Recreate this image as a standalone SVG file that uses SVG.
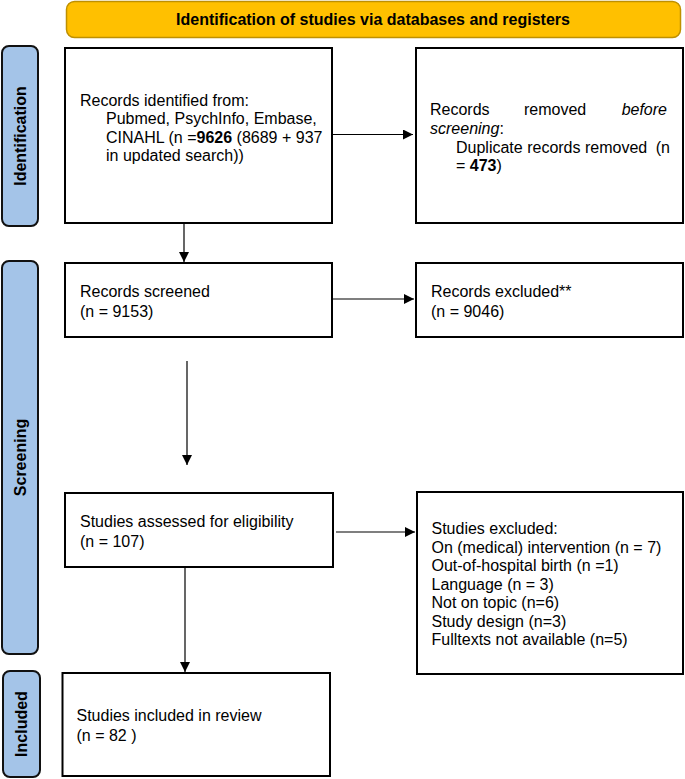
<svg xmlns="http://www.w3.org/2000/svg" width="685" height="779" viewBox="0 0 685 779">
<style>
.t{font-family:"Liberation Sans",Arial,sans-serif;font-size:16px;fill:#000}
.b{font-weight:bold}
.i{font-style:italic}
.box{fill:#fff;stroke:#000;stroke-width:2}
.side{fill:#A4C4E8;stroke:#111;stroke-width:2}
.lbl{font-family:"Liberation Sans",Arial,sans-serif;font-size:16px;font-weight:bold;fill:#000}
.con{stroke:#000;stroke-width:1.2;fill:none}
</style>
<defs>
<marker id="ah" markerUnits="userSpaceOnUse" markerWidth="11" markerHeight="10" refX="10" refY="5" orient="auto">
<path d="M0,0 L10,5 L0,10 z" fill="#000"/>
</marker>
</defs>
<rect width="685" height="779" fill="#fff"/>

<g id="header">
<rect x="66.5" y="1.5" width="614" height="36" rx="8" fill="#FFC000" stroke="#BF9000" stroke-width="1.5"/>
<text class="lbl" x="373" y="25" text-anchor="middle">Identification of studies via databases and registers</text>
</g>

<g id="side-identification">
<rect class="side" x="2" y="46" width="36" height="180" rx="7"/>
<text class="lbl" transform="translate(25.5,136) rotate(-90)" text-anchor="middle">Identification</text>
</g>
<g id="side-screening">
<rect class="side" x="2" y="261" width="36" height="393" rx="7"/>
<text class="lbl" transform="translate(25.5,457.5) rotate(-90)" text-anchor="middle">Screening</text>
</g>
<g id="side-included">
<rect class="side" x="3" y="671" width="37" height="106" rx="7"/>
<text class="lbl" transform="translate(27,724) rotate(-90)" text-anchor="middle">Included</text>
</g>

<g id="records-identified">
<rect class="box" x="65" y="48" width="267" height="175"/>
<text class="t" x="80" y="105.5">Records identified from:</text>
<text class="t" x="106" y="124">Pubmed, PsychInfo, Embase,</text>
<text class="t" x="106" y="142.5">CINAHL (n =<tspan class="b">9626</tspan> (8689 + 937</text>
<text class="t" x="106" y="161">in updated search))</text>
</g>

<g id="records-removed">
<rect class="box" x="416" y="48" width="267" height="175"/>
<text class="t" x="430" y="115">Records</text>
<text class="t" x="524" y="115">removed</text>
<text class="t i" x="667" y="115" text-anchor="end">before</text>
<text class="t" x="430" y="134"><tspan class="i">screening</tspan>:</text>
<text class="t" x="456" y="152.5">Duplicate records removed</text>
<text class="t" x="670" y="152.5" text-anchor="end">(n</text>
<text class="t" x="456" y="171">= <tspan class="b">473</tspan>)</text>
</g>

<g id="records-screened">
<rect class="box" x="65" y="263" width="267" height="74"/>
<text class="t" x="80" y="297">Records screened</text>
<text class="t" x="80" y="316.5">(n = 9153)</text>
</g>

<g id="records-excluded">
<rect class="box" x="416" y="263" width="267" height="74"/>
<text class="t" x="431" y="297">Records excluded**</text>
<text class="t" x="431" y="316.5">(n = 9046)</text>
</g>

<g id="studies-assessed">
<rect class="box" x="65" y="493" width="268" height="74"/>
<text class="t" x="80" y="527">Studies assessed for eligibility</text>
<text class="t" x="80" y="546.5">(n = 107)</text>
</g>

<g id="studies-excluded">
<rect class="box" x="417" y="492" width="266" height="182"/>
<text class="t" x="431.5" y="534">Studies excluded:</text>
<text class="t" x="431.5" y="552.5">On (medical) intervention (n = 7)</text>
<text class="t" x="431.5" y="571">Out-of-hospital birth (n =1)</text>
<text class="t" x="431.5" y="589.5">Language (n = 3)</text>
<text class="t" x="431.5" y="608">Not on topic (n=6)</text>
<text class="t" x="431.5" y="626.5">Study design (n=3)</text>
<text class="t" x="431.5" y="645">Fulltexts not available (n=5)</text>
</g>

<g id="studies-included">
<rect class="box" x="62.5" y="673" width="267.5" height="103"/>
<text class="t" x="76.5" y="721">Studies included in review</text>
<text class="t" x="76.5" y="740.5">(n = 82 )</text>
</g>

<g id="connectors">
<line class="con" x1="332" y1="134.5" x2="413" y2="134.5" marker-end="url(#ah)"/>
<line class="con" x1="184" y1="224" x2="184" y2="262" marker-end="url(#ah)"/>
<line class="con" x1="332" y1="299" x2="414" y2="299" marker-end="url(#ah)"/>
<line class="con" x1="187" y1="361" x2="187" y2="465" marker-end="url(#ah)"/>
<line class="con" x1="336" y1="532" x2="415" y2="532" marker-end="url(#ah)"/>
<line class="con" x1="185" y1="567" x2="185" y2="672" marker-end="url(#ah)"/>
</g>
</svg>
